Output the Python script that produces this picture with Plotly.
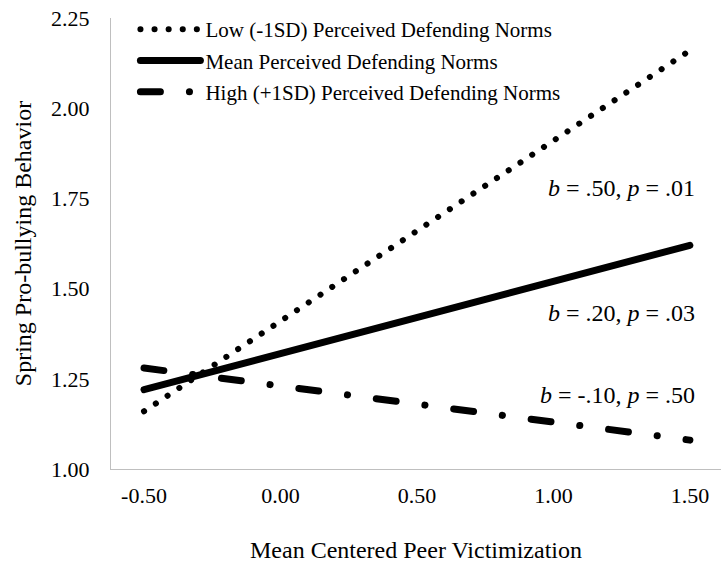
import plotly.graph_objects as go

# Data
x_vals = [-0.50, 1.50]
low_vals = [1.16, 2.16]
mean_vals = [1.22, 1.62]
high_vals = [1.28, 1.08]
series_names = [
    "Low (-1SD) Perceived Defending Norms",
    "Mean Perceived Defending Norms",
    "High (+1SD) Perceived Defending Norms",
]
x_ticks = [-0.50, 0.00, 0.50, 1.00, 1.50]
x_tick_labels = ["-0.50", "0.00", "0.50", "1.00", "1.50"]
y_ticks = [1.00, 1.25, 1.50, 1.75, 2.00, 2.25]
y_tick_labels = ["1.00", "1.25", "1.50", "1.75", "2.00", "2.25"]
ann_texts = [
    "<i>b</i> = .50, <i>p</i> = .01",
    "<i>b</i> = .20, <i>p</i> = .03",
    "<i>b</i> = -.10, <i>p</i> = .50",
]
ann_y = [1.78, 1.432, 1.205]

FONT = "Liberation Serif, Times New Roman, serif"

fig = go.Figure()
fig.add_trace(go.Scatter(
    x=x_vals, y=low_vals, mode="lines", name=series_names[0],
    line=dict(color="black", width=6, dash="0.1px,14px"), legendgroup="a"))
fig.add_trace(go.Scatter(
    x=x_vals, y=mean_vals, mode="lines", name=series_names[1],
    line=dict(color="black", width=7), legendgroup="b"))
fig.add_trace(go.Scatter(
    x=x_vals, y=high_vals, mode="lines", name=series_names[2],
    line=dict(color="black", width=7, dash="20px,29px,0.1px,29px"), legendgroup="c"))

for t, yv in zip(ann_texts, ann_y):
    fig.add_annotation(x=1.525, y=yv, xref="x", yref="y", text=t, showarrow=False,
                       xanchor="right", yanchor="middle",
                       font=dict(family=FONT, size=24, color="black"))

fig.update_layout(
    width=721, height=564,
    margin=dict(l=111, r=0, t=18, b=95),
    paper_bgcolor="white", plot_bgcolor="white",
    font=dict(family=FONT, size=22, color="black"),
    showlegend=True,
    legend=dict(x=0.04, y=1.02, xanchor="left", yanchor="top",
                font=dict(family=FONT, size=21, color="black"),
                bgcolor="rgba(0,0,0,0)", tracegroupgap=1, itemwidth=60),
    xaxis=dict(range=[-0.621, 1.614], tickvals=x_ticks, ticktext=x_tick_labels,
               showgrid=False, zeroline=False, showline=True, linecolor="#bfbfbf",
               linewidth=1, ticks="", tickfont=dict(size=22), ticklabelstandoff=7,
               automargin=False,
               title=dict(text="Mean Centered Peer Victimization", font=dict(size=24), standoff=33)),
    yaxis=dict(range=[1.0, 2.25], tickvals=y_ticks, ticktext=y_tick_labels,
               showgrid=False, zeroline=False, showline=True, linecolor="#bfbfbf",
               linewidth=1, ticks="", tickfont=dict(size=22), ticklabelstandoff=16,
               automargin=False,
               title=dict(text="Spring Pro-bullying Behavior", font=dict(size=24), standoff=12)),
)

fig.write_html("out.html", config={"displayModeBar": False}, post_script=(
    "document.body.style.margin='0';"
    "document.querySelectorAll('.js-line').forEach(function(p){p.style.strokeLinecap='round';});"
))
